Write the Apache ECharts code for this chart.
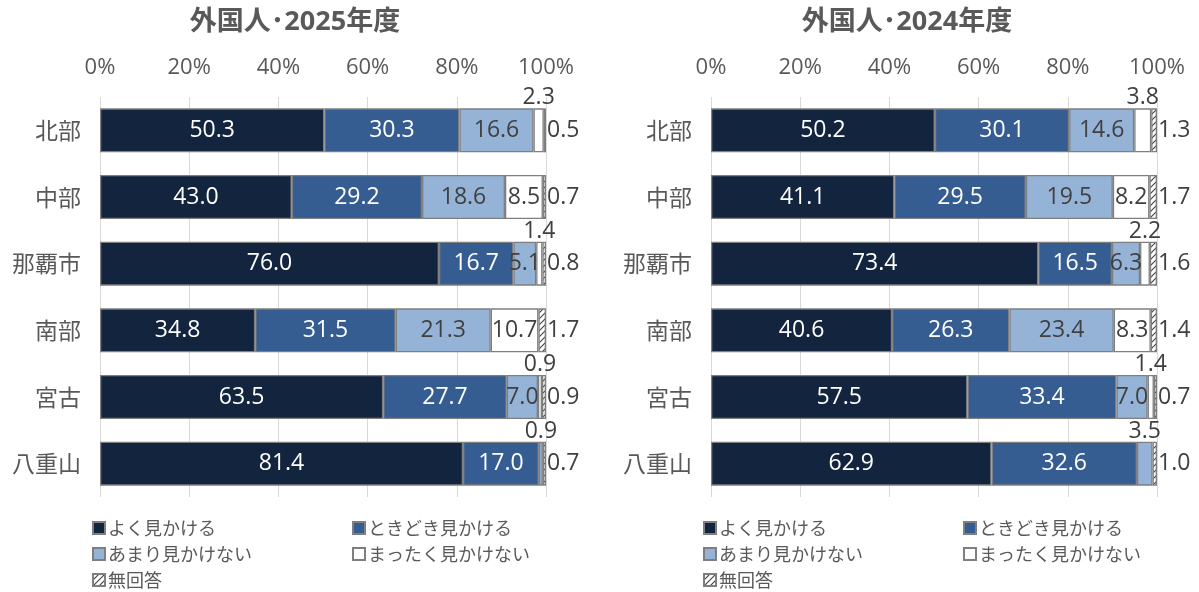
<!DOCTYPE html>
<html><head><meta charset="utf-8">
<script src="https://cdn.jsdelivr.net/npm/echarts@6/dist/echarts.min.js"></script>
<style>html,body{margin:0;padding:0;background:#fff}#c{width:1199px;height:592px}</style>
</head><body><div id="c"></div>
<script>
const categories = ['北部','中部','那覇市','南部','宮古','八重山'];
const seriesNames = ['よく見かける','ときどき見かける','あまり見かけない','まったく見かけない','無回答'];
const titles = ['外国人･2025年度','外国人･2024年度'];
const tickLabels = ['0%','20%','40%','60%','80%','100%'];
// 2025
const often2025     = [50.3, 43.0, 76.0, 34.8, 63.5, 81.4];
const sometimes2025 = [30.3, 29.2, 16.7, 31.5, 27.7, 17.0];
const rarely2025    = [16.6, 18.6, 5.1, 21.3, 7.0, 0.9];
const never2025     = [2.3, 8.5, 1.4, 10.7, 0.9, 0];
const noAnswer2025  = [0.5, 0.7, 0.8, 1.7, 0.9, 0.7];
// 2024
const often2024     = [50.2, 41.1, 73.4, 40.6, 57.5, 62.9];
const sometimes2024 = [30.1, 29.5, 16.5, 26.3, 33.4, 32.6];
const rarely2024    = [14.6, 19.5, 6.3, 23.4, 7.0, 3.5];
const never2024     = [3.8, 8.2, 2.2, 8.3, 1.4, 0];
const noAnswer2024  = [1.3, 1.7, 1.6, 1.4, 0.7, 1.0];

const FONT = '"Open Sans", "Noto Sans CJK JP", sans-serif';
const CJK = '"Noto Sans CJK JP", sans-serif';
const colors = ['#13243f', '#355d91', '#95b3d7', '#ffffff', null];
const labelDark = '#404040';

function hatch(){
  const c = document.createElement('canvas');
  c.width = 6; c.height = 6;
  const g = c.getContext('2d');
  g.fillStyle = '#fff'; g.fillRect(0,0,6,6);
  g.strokeStyle = '#404040'; g.lineWidth = 1.1;
  g.beginPath();
  g.moveTo(-1,7); g.lineTo(7,-1);
  g.moveTo(-4,4); g.lineTo(4,-4);
  g.moveTo(2,10); g.lineTo(10,2);
  g.stroke();
  return {image: c, repeat: 'repeat'};
}
const hatchFill = hatch();

const chart = echarts.init(document.getElementById('c'), null, {renderer:'canvas'});

const grids = [
  {left: 100, width: 446, top: 97, height: 400},
  {left: 711, width: 446, top: 97, height: 400}
];
const datasets = [
  [often2025, sometimes2025, rarely2025, never2025, noAnswer2025],
  [often2024, sometimes2024, rarely2024, never2024, noAnswer2024]
];

const fmt = p => (typeof p.value === 'number' ? p.value.toFixed(1) : '');

const series = [];
datasets.forEach((ds, gi) => {
  ds.forEach((vals, si) => {
    const data = vals.map(v => {
      if (v === 0) return {value: '-'};
      const item = {value: v};
      if ((si === 2 || si === 3) && v < 5) {
        item.label = {position: 'top', distance: -1};
      }
      return item;
    });
    let label;
    if (si < 2) label = {show: true, position: 'inside', color: '#ffffff'};
    else if (si < 4) label = {show: true, position: 'inside', color: labelDark};
    else label = {show: true, position: 'right', color: labelDark, distance: 1};
    label.fontFamily = FONT; label.fontSize = 23; label.formatter = fmt;
    series.push({
      name: seriesNames[si], type: 'bar', stack: 's' + gi,
      xAxisIndex: gi, yAxisIndex: gi, barWidth: '66%',
      itemStyle: {color: si === 4 ? hatchFill : colors[si], borderColor: '#7f7f7f', borderWidth: 1.3},
      label, data, animation: false
    });
  });
});

const xAxes = grids.map((g, i) => ({
  gridIndex: i, type: 'value', position: 'top', min: 0, max: 100, interval: 20,
  axisLine: {show: false}, axisTick: {show: false},
  splitLine: {show: true, lineStyle: {color: '#d9d9d9', width: 1}},
  axisLabel: {formatter: v => tickLabels[v / 20], color: '#595959', fontSize: 22, fontFamily: FONT, margin: 18}
}));
const yAxes = grids.map((g, i) => ({
  gridIndex: i, type: 'category', inverse: true, data: categories,
  axisLine: {show: false}, axisTick: {show: false},
  axisLabel: {color: '#595959', fontSize: 23, fontFamily: CJK, margin: 19}
}));

const legendPos = [[92, 519], [352, 519], [92, 545], [352, 545], [92, 571]];
const legends = [];
[0, 611].forEach(dx => {
  seriesNames.forEach((n, i) => {
    legends.push({
      data: [n], left: legendPos[i][0] + dx, top: legendPos[i][1],
      itemWidth: 12, itemHeight: 12, itemGap: 4, icon: 'rect',
      selectedMode: false, padding: 0,
      textStyle: {color: '#595959', fontSize: 18, fontFamily: CJK, padding: [0,0,0,-2]}
    });
  });
});

chart.setOption({
  backgroundColor: '#fff',
  animation: false,
  title: [
    {text: titles[0], left: 290, top: 4, textAlign: 'center', textStyle: {color: '#595959', fontSize: 27, fontWeight: 'bold', fontFamily: FONT}},
    {text: titles[1], left: 902, top: 4, textAlign: 'center', textStyle: {color: '#595959', fontSize: 27, fontWeight: 'bold', fontFamily: FONT}}
  ],
  grid: grids,
  xAxis: xAxes,
  yAxis: yAxes,
  legend: legends,
  series
});
</script></body></html>
